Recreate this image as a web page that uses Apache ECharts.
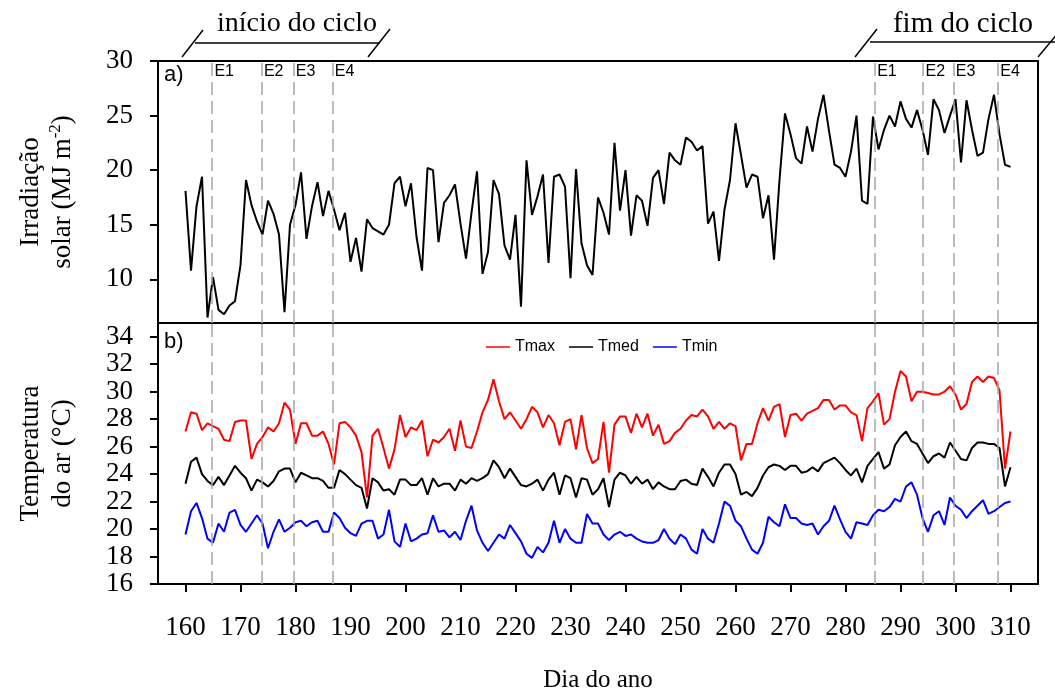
<!DOCTYPE html>
<html>
<head>
<meta charset="utf-8">
<script src="https://cdn.jsdelivr.net/npm/echarts@6/dist/echarts.min.js"></script>
<style>html,body{margin:0;padding:0;background:#fff}#c{width:1055px;height:690px}</style>
</head>
<body>
<div id="c"></div>
<script>
const startDay = 160;
const irradiacao = [18.1,10.8,16.7,19.4,6.5,10.2,7.2,6.8,7.6,8.0,
11.3,19.1,16.8,15.3,14.1,17.2,16.0,14.1,7.0,15.0,
16.8,19.8,13.7,16.7,18.9,15.8,18.1,16.4,14.5,16.1,
11.6,13.8,10.7,15.5,14.7,14.4,14.1,15.0,18.8,19.4,
16.7,18.8,13.9,10.8,20.2,20.0,13.4,17.0,17.7,18.7,
15.1,11.9,16.1,19.9,10.5,12.5,19.1,17.8,13.1,11.8,
15.9,7.5,20.9,15.9,17.6,19.6,11.5,19.4,19.6,18.5,
10.1,20.1,13.3,11.3,10.4,17.5,16.1,14.1,22.5,16.3,
20.0,14.0,17.7,17.2,14.9,19.3,20.0,16.9,21.6,20.9,
20.5,23.0,22.6,21.8,22.2,15.1,16.2,11.7,16.4,19.1,
24.3,21.4,18.4,19.6,19.4,15.6,17.7,11.8,19.1,25.2,
23.3,21.1,20.6,24.0,21.7,24.7,26.9,23.6,20.5,20.2,
19.4,21.7,25.0,17.2,16.9,24.9,21.9,23.7,25.0,24.0,
26.3,24.7,23.9,25.5,23.7,21.4,26.5,25.5,23.4,25.0,
26.5,20.7,26.4,23.7,21.3,21.6,24.7,26.9,23.3,20.5,20.3];
const tmax = [27.1,28.5,28.4,27.2,27.7,27.5,27.3,26.5,26.4,27.8,
27.9,27.9,25.1,26.2,26.7,27.4,27.1,27.7,29.2,28.7,
26.2,27.7,27.7,26.8,26.8,27.1,26.2,24.7,27.7,27.8,
27.4,26.8,25.6,22.3,26.8,27.3,25.9,24.4,25.8,28.3,
26.7,27.4,27.2,27.9,25.3,26.5,26.3,26.7,27.3,25.7,
27.9,26.0,25.9,27.1,28.5,29.4,30.9,29.3,28.0,28.5,
27.9,27.3,28.0,28.9,28.5,27.4,28.3,27.7,26.1,27.8,
28.0,25.8,28.3,25.9,24.8,25.1,27.8,24.1,27.6,28.2,
28.2,27.0,28.4,27.4,28.4,26.8,27.6,26.2,26.4,27.0,
27.3,27.9,28.3,28.2,28.7,28.2,27.3,27.8,27.3,27.7,
27.5,25.0,26.2,26.2,27.7,28.8,27.9,28.9,29.1,26.7,
28.3,28.4,27.9,28.4,28.6,28.8,29.4,29.4,28.7,29.0,
29.0,28.5,28.3,26.4,28.8,29.3,29.9,27.6,28.0,30.0,
31.5,31.1,29.3,30.0,30.0,29.9,29.8,29.8,30.0,30.4,
29.8,28.7,29.1,30.7,31.1,30.7,31.1,31.0,30.1,24.4,27.1];
const tmed = [23.3,24.9,25.2,24.0,23.5,23.2,23.8,23.2,23.9,24.6,
24.1,23.7,22.8,23.6,23.4,23.1,23.5,24.2,24.4,24.4,
23.4,24.1,23.9,23.7,23.7,23.5,23.0,23.0,24.3,24.0,
23.6,23.2,23.0,21.5,23.7,23.4,22.8,22.9,22.5,23.6,
23.6,23.2,23.2,23.7,22.5,23.7,23.1,23.3,23.3,22.8,
23.6,23.3,23.7,23.5,23.7,24.0,25.0,24.5,23.7,24.4,
23.8,23.2,23.1,23.3,23.6,22.8,23.6,24.1,22.5,23.9,
23.7,22.3,23.7,23.6,22.5,22.9,23.7,21.6,23.6,24.1,
23.9,23.3,23.8,23.3,23.6,22.9,23.4,23.1,22.9,22.9,
23.5,23.6,23.3,23.2,24.4,23.8,23.1,24.1,24.7,24.7,
24.0,22.5,22.7,22.4,23.0,23.9,24.5,24.7,24.6,24.3,
24.6,24.6,24.1,24.2,24.5,24.2,24.8,25.0,25.2,24.8,
24.3,23.9,24.4,23.4,24.6,25.1,25.6,24.4,24.7,26.1,
26.7,27.1,26.4,26.2,25.5,24.8,25.3,25.5,25.2,26.3,
25.7,25.1,25.0,25.9,26.3,26.3,26.2,26.2,25.9,23.1,24.5];
const tmin = [19.6,21.3,21.9,20.8,19.3,19.0,20.4,19.8,21.2,21.4,
20.3,19.8,20.4,21.0,20.4,18.6,19.8,20.7,19.8,20.1,
20.5,20.6,20.2,20.5,20.6,19.8,19.8,21.2,20.8,20.1,
19.7,19.5,20.4,20.6,20.6,19.3,19.6,21.4,19.1,18.7,
20.4,19.1,19.3,19.6,19.7,21.0,19.8,19.9,19.4,19.8,
19.2,20.6,21.7,19.9,19.0,18.4,19.0,19.6,19.3,20.3,
19.7,19.1,18.2,17.9,18.7,18.3,19.0,20.6,19.0,20.0,
19.3,19.0,19.0,21.1,20.4,20.4,19.6,19.2,19.6,19.8,
19.5,19.6,19.3,19.1,19.0,19.0,19.2,20.0,19.3,18.9,
19.6,19.3,18.5,18.2,20.0,19.3,19.0,20.4,22.0,21.7,
20.6,20.2,19.3,18.5,18.2,19.0,20.9,20.5,20.2,21.8,
20.8,20.8,20.4,20.3,20.4,19.6,20.2,20.6,21.7,20.7,
19.8,19.3,20.5,20.4,20.3,21.0,21.4,21.3,21.6,22.2,
22.0,23.1,23.4,22.5,20.8,19.8,21.0,21.3,20.3,22.3,
21.7,21.4,20.8,21.3,21.7,22.1,21.1,21.3,21.6,21.9,22.0];
const stageLabels = ['E1','E2','E3','E4'];
const stagesStart = [164.8,173.8,179.6,186.7];
const stagesEnd = [285.3,294.1,299.6,307.7];
const xTicks = [160,170,180,190,200,210,220,230,240,250,260,270,280,290,300,310];
const yTicksIrr = [10,15,20,25,30];
const yTicksTemp = [16,18,20,22,24,26,28,30,32,34];
const seriesNames = ['Tmax','Tmed','Tmin'];

function pairs(arr){ return arr.map((v,i)=>[startDay+i, v]); }
const stageDays = stagesStart.concat(stagesEnd);
const stageNames = stageLabels.concat(stageLabels);

const serif = 'Liberation Serif';
const sans = 'Liberation Sans';
const chart = echarts.init(document.getElementById('c'));
const dashLine = {color:'#a6a6a6', type:[13,6], width:1.5};
function mk(){
  return {silent:true, symbol:['none','none'], lineStyle:dashLine, label:{show:false}, animation:false,
    data: stageDays.map(d=>({xAxis:d}))};
}
const option = {
  animation:false,
  backgroundColor:'#fff',
  grid:[
    {left:158, right:17, top:61, height:262, show:true, borderColor:'#000', borderWidth:2, backgroundColor:'transparent', containLabel:false, outerBoundsMode:'none'},
    {left:158, right:17, top:323, height:261, show:true, borderColor:'#000', borderWidth:2, backgroundColor:'transparent', containLabel:false, outerBoundsMode:'none'}
  ],
  xAxis:[
    {gridIndex:0, type:'value', min:155, max:315, axisLine:{show:false}, axisTick:{show:false}, axisLabel:{show:false}, splitLine:{show:false}},
    {gridIndex:1, type:'value', min:155, max:315, axisLine:{show:false},
     axisTick:{show:true, inside:false, length:8, customValues:xTicks, lineStyle:{color:'#000', width:2}},
     axisLabel:{customValues:xTicks, margin:30, color:'#000', fontFamily:serif, fontSize:27, showMinLabel:true, showMaxLabel:true, hideOverlap:false},
     splitLine:{show:false},
     name:'Dia do ano', nameLocation:'middle', nameGap:96,
     nameTextStyle:{fontFamily:serif, fontSize:25, color:'#000', verticalAlign:'middle'}}
  ],
  yAxis:[
    {gridIndex:0, type:'value', min:6, max:30, axisLine:{show:false},
     axisTick:{show:true, inside:false, length:8, customValues:yTicksIrr, lineStyle:{color:'#000', width:2}},
     axisLabel:{customValues:yTicksIrr, margin:25, color:'#000', fontFamily:serif, fontSize:27, showMinLabel:true, showMaxLabel:true, hideOverlap:false},
     splitLine:{show:false},
     name:'{t|Irradiação}\n{t|solar (MJ m}{s|-2}{t|)}', nameLocation:'middle', nameRotate:90, nameGap:111,
     nameTextStyle:{fontFamily:serif, fontSize:27, color:'#000', align:'center', verticalAlign:'middle',
       rich:{t:{fontFamily:serif, fontSize:27, color:'#000', lineHeight:32},
             s:{fontFamily:serif, fontSize:17, color:'#000', lineHeight:32, verticalAlign:'top', padding:[0,0,8,0]}}}},
    {gridIndex:1, type:'value', min:16, max:35, axisLine:{show:false},
     axisTick:{show:true, inside:false, length:8, customValues:yTicksTemp, lineStyle:{color:'#000', width:2}},
     axisLabel:{customValues:yTicksTemp, margin:25, color:'#000', fontFamily:serif, fontSize:27, showMinLabel:true, showMaxLabel:true, hideOverlap:false},
     splitLine:{show:false},
     name:'Temperatura\ndo ar (°C)', nameLocation:'middle', nameRotate:90, nameGap:111,
     nameTextStyle:{fontFamily:serif, fontSize:27, color:'#000', align:'center', verticalAlign:'middle', lineHeight:32}}
  ],
  legend:{
    data:seriesNames, left:481, top:334, icon:'rect', itemWidth:24, itemHeight:1.5, itemGap:14,
    textStyle:{fontFamily:sans, fontSize:16, color:'#000'}
  },
  series:[
    {name:'Irradiação', type:'line', xAxisIndex:0, yAxisIndex:0, data:pairs(irradiacao), symbol:'none',
     lineStyle:{color:'#000', width:2}, itemStyle:{color:'#000'}, markLine:mk(), z:3},
    {name:'Etapas', type:'scatter', xAxisIndex:0, yAxisIndex:0, symbolSize:1, itemStyle:{color:'rgba(255,255,255,0)'},
     data: stageDays.map((d,i)=>({name:stageNames[i], value:[d,30]})),
     label:{show:true, formatter:'{b}', position:[3,3], align:'left', verticalAlign:'top', fontFamily:sans, fontSize:16, color:'#000', opacity:1},
     silent:true},
    {name:'Tmax', type:'line', xAxisIndex:1, yAxisIndex:1, data:pairs(tmax), symbol:'none',
     lineStyle:{color:'#ff0000', width:2}, itemStyle:{color:'#ff0000'}, markLine:mk(), z:3},
    {name:'Tmed', type:'line', xAxisIndex:1, yAxisIndex:1, data:pairs(tmed), symbol:'none',
     lineStyle:{color:'#000', width:2}, itemStyle:{color:'#000'}, z:3},
    {name:'Tmin', type:'line', xAxisIndex:1, yAxisIndex:1, data:pairs(tmin), symbol:'none',
     lineStyle:{color:'#0000ff', width:2}, itemStyle:{color:'#0000ff'}, z:3}
  ],
  graphic:[
    {type:'text', left:164, top:64, style:{text:'a)', fontFamily:sans, fontSize:22, fill:'#000'}},
    {type:'text', left:164, top:331, style:{text:'b)', fontFamily:sans, fontSize:22, fill:'#000'}},
    {type:'line', shape:{x1:182,y1:57,x2:203,y2:30}, style:{stroke:'#000', lineWidth:1.5}},
    {type:'line', shape:{x1:195,y1:43,x2:380,y2:43}, style:{stroke:'#000', lineWidth:1.5}},
    {type:'line', shape:{x1:368,y1:57,x2:390,y2:29}, style:{stroke:'#000', lineWidth:1.5}},
    {type:'text', x:297, y:24, style:{text:'início do ciclo', fontFamily:serif, fontSize:28, fill:'#000', align:'center', verticalAlign:'middle'}},
    {type:'line', shape:{x1:855,y1:57,x2:877,y2:29}, style:{stroke:'#000', lineWidth:1.5}},
    {type:'line', shape:{x1:870,y1:42,x2:1055,y2:42}, style:{stroke:'#000', lineWidth:1.5}},
    {type:'line', shape:{x1:1038,y1:57,x2:1058,y2:33}, style:{stroke:'#000', lineWidth:1.5}},
    {type:'text', x:963, y:24, style:{text:'fim do ciclo', fontFamily:serif, fontSize:29, fill:'#000', align:'center', verticalAlign:'middle'}}
  ]
};
chart.setOption(option);
</script>
</body>
</html>
